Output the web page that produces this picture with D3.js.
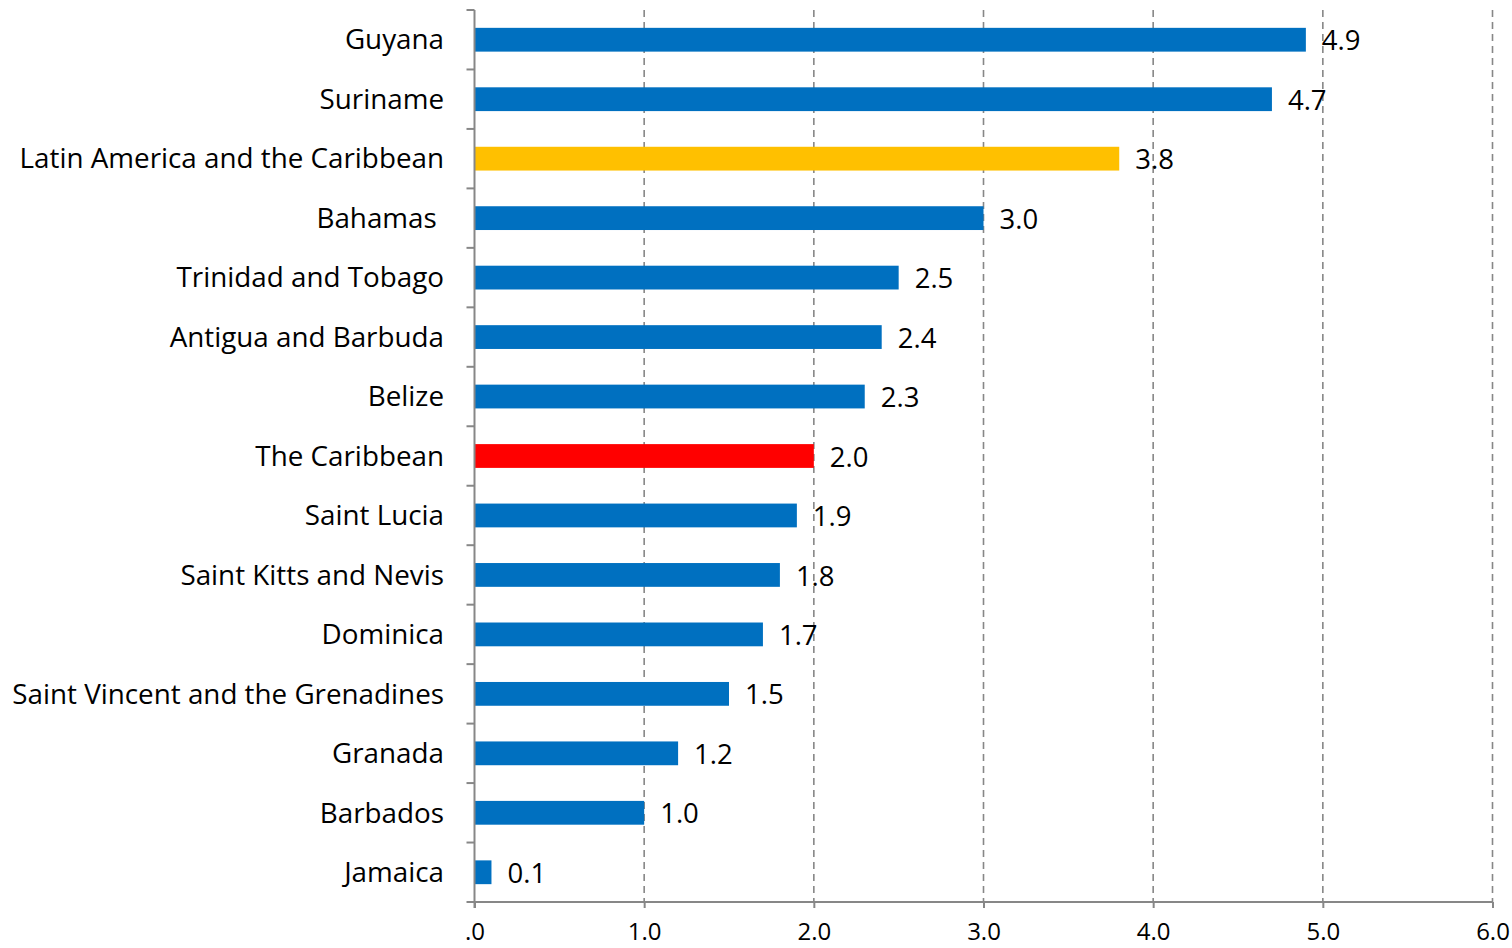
<!DOCTYPE html>
<html><head><meta charset="utf-8">
<script src="https://cdn.jsdelivr.net/npm/d3@7"></script>
<style>body{margin:0;background:#fff;} text{font-family:"Open Sans",sans-serif;}</style>
</head><body><svg id="c" width="1512" height="948"></svg>
<script>
const categories = ["Guyana","Suriname","Latin America and the Caribbean","Bahamas ","Trinidad and Tobago","Antigua and Barbuda","Belize","The Caribbean","Saint Lucia","Saint Kitts and Nevis","Dominica","Saint Vincent and the Grenadines","Granada","Barbados","Jamaica"];
const values = [4.9,4.7,3.8,3.0,2.5,2.4,2.3,2.0,1.9,1.8,1.7,1.5,1.2,1.0,0.1];
const barColors = ["#0070C0","#0070C0","#FFC000","#0070C0","#0070C0","#0070C0","#0070C0","#FF0000","#0070C0","#0070C0","#0070C0","#0070C0","#0070C0","#0070C0","#0070C0"];
const xTicks = [0,1,2,3,4,5,6];
const xTickLabels = [".0","1.0","2.0","3.0","4.0","5.0","6.0"];

(function(){
const svg = d3.select("#c");
const mL = 474.5, mR = 1492.5, mT = 10, mB = 902;
const x = d3.scaleLinear().domain([0,6]).range([mL,mR]);
const y = d3.scaleBand().domain(categories).range([mT,mB]).paddingInner(0.6).paddingOuter(0.3);
const grey = "#878787";

svg.append("g").selectAll("line").data(xTicks.slice(1)).join("line")
  .attr("x1",d=>x(d)).attr("x2",d=>x(d)).attr("y1",mT).attr("y2",mB)
  .attr("stroke",grey).attr("stroke-width",1.6).attr("stroke-dasharray","7,5");

svg.append("g").selectAll("rect").data(categories).join("rect")
  .attr("x",mL).attr("y",d=>y(d)).attr("width",(d,i)=>x(values[i])-mL).attr("height",y.bandwidth())
  .attr("fill",(d,i)=>barColors[i]);

svg.append("g").selectAll("text").data(categories).join("text")
  .attr("x",(d,i)=>x(values[i])+16).attr("y",d=>y(d)+y.bandwidth()/2+1)
  .attr("dy","0.35em").attr("font-size",27.5).attr("fill","#000")
  .text((d,i)=>values[i].toFixed(1));

const xa = svg.append("g").attr("transform",`translate(0,${mB})`)
  .call(d3.axisBottom(x).tickValues(xTicks).tickSize(6).tickFormat((d,i)=>xTickLabels[i]));
xa.select(".domain").attr("stroke",grey).attr("stroke-width",2).attr("d",`M${mL},0H${mR}`);
xa.selectAll(".tick line").attr("stroke",grey).attr("stroke-width",2);
xa.selectAll(".tick text").attr("font-size",24).attr("fill","#000").attr("font-family","Open Sans")
  .attr("y",38).attr("dy","0");

const step = y.step();
const bounds = d3.range(categories.length+1).map(i=>mT + i*step);
const ya = svg.append("g");
ya.append("line").attr("x1",mL).attr("x2",mL).attr("y1",mT).attr("y2",mB+6).attr("stroke",grey).attr("stroke-width",2);
ya.selectAll("line.t").data(bounds).join("line").attr("class","t")
  .attr("x1",mL-8).attr("x2",mL).attr("y1",d=>d).attr("y2",d=>d).attr("stroke",grey).attr("stroke-width",2);
ya.selectAll("text").data(categories).join("text")
  .attr("x",444).attr("y",d=>y(d)+y.bandwidth()/2).attr("dy","0.35em")
  .attr("text-anchor","end").attr("font-size",27.8).attr("fill","#000")
  .style("white-space","pre").text(d=>d);
})();
</script></body></html>
